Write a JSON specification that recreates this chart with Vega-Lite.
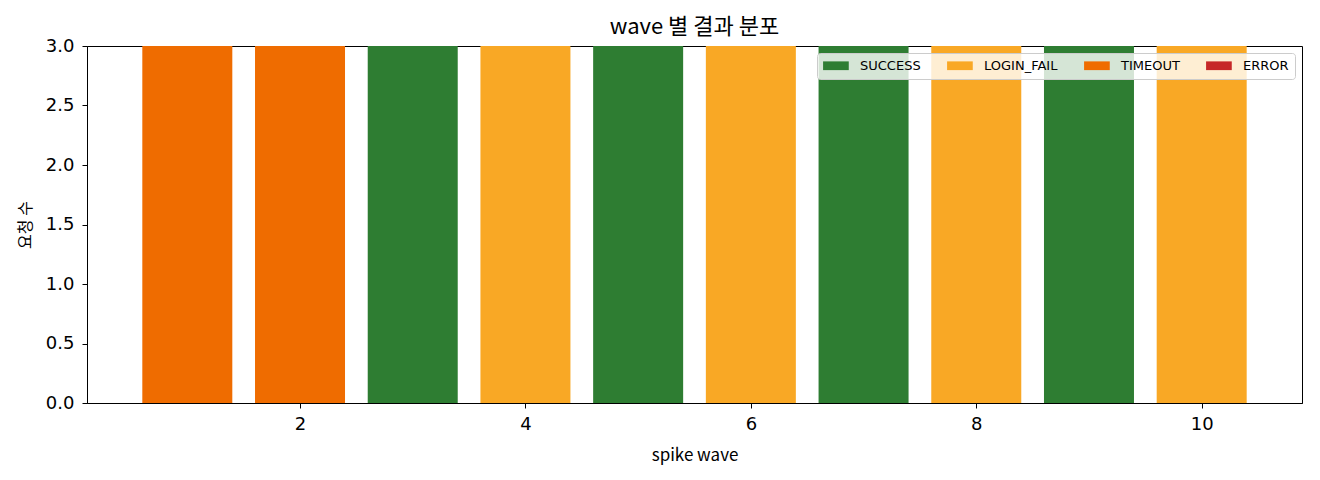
{
  "$schema": "https://vega.github.io/schema/vega-lite/v6.json",
  "autosize": "none",
  "width": 1215,
  "height": 357,
  "padding": {"left": 87, "top": 46, "right": 18, "bottom": 77},
  "background": "white",
  "title": {
    "text": "wave 별 결과 분포",
    "font": "Noto Sans CJK KR",
    "fontSize": 22,
    "fontWeight": "normal",
    "color": "#000000",
    "frame": "group",
    "offset": 8,
    "dy": 10
  },
  "config": {
    "font": "Noto Sans CJK KR",
    "view": {"stroke": "#000000", "strokeWidth": 1}
  },
  "data": {
    "values": [
      {"wave": 1, "result": "TIMEOUT", "count": 3},
      {"wave": 2, "result": "TIMEOUT", "count": 3},
      {"wave": 3, "result": "SUCCESS", "count": 3},
      {"wave": 4, "result": "LOGIN_FAIL", "count": 3},
      {"wave": 5, "result": "SUCCESS", "count": 3},
      {"wave": 6, "result": "LOGIN_FAIL", "count": 3},
      {"wave": 7, "result": "SUCCESS", "count": 3},
      {"wave": 8, "result": "LOGIN_FAIL", "count": 3},
      {"wave": 9, "result": "SUCCESS", "count": 3},
      {"wave": 10, "result": "LOGIN_FAIL", "count": 3}
    ]
  },
  "mark": {"type": "bar", "size": 90, "clip": true},
  "encoding": {
    "x": {
      "field": "wave",
      "type": "quantitative",
      "scale": {"domain": [0.11, 10.89], "nice": false, "zero": false, "padding": 0},
      "axis": {
        "title": "spike wave",
        "values": [2, 4, 6, 8, 10],
        "grid": false,
        "domainColor": "#000000",
        "tickColor": "#000000",
        "tickSize": 5,
        "labelFont": "DejaVu Sans",
        "labelFontSize": 18,
        "labelColor": "#000000",
        "labelPadding": 7,
        "titleFont": "Noto Sans CJK KR",
        "titleFontSize": 17,
        "titleFontWeight": "normal",
        "titleColor": "#000000",
        "titlePadding": 14
      }
    },
    "y": {
      "field": "count",
      "type": "quantitative",
      "stack": "zero",
      "scale": {"domain": [0, 3], "nice": false, "padding": 0},
      "axis": {
        "title": "요청 수",
        "values": [0, 0.5, 1, 1.5, 2, 2.5, 3],
        "format": ".1f",
        "grid": false,
        "domainColor": "#000000",
        "tickColor": "#000000",
        "tickSize": 5,
        "labelFont": "DejaVu Sans",
        "labelFontSize": 18,
        "labelColor": "#000000",
        "labelPadding": 8,
        "titleFont": "Noto Sans CJK KR",
        "titleFontSize": 16,
        "titleFontWeight": "normal",
        "titleColor": "#000000",
        "titlePadding": 12
      }
    },
    "color": {
      "field": "result",
      "type": "nominal",
      "scale": {
        "domain": ["SUCCESS", "LOGIN_FAIL", "TIMEOUT", "ERROR"],
        "range": ["#2E7D32", "#F9A825", "#EF6C00", "#C62828"]
      },
      "legend": {
        "title": null,
        "orient": "top-right",
        "offset": 7,
        "direction": "horizontal",
        "columns": 4,
        "symbolType": "M-1,-0.68H3V0.68H-1Z",
        "symbolSize": 165,
        "symbolOpacity": 1,
        "symbolStrokeWidth": 0,
        "labelFont": "DejaVu Sans",
        "labelFontSize": 13,
        "labelColor": "#000000",
        "labelOffset": 24,
        "columnPadding": 26,
        "padding": 6,
        "fillColor": "rgba(255,255,255,0.8)",
        "strokeColor": "#cccccc",
        "cornerRadius": 3
      }
    }
  }
}
